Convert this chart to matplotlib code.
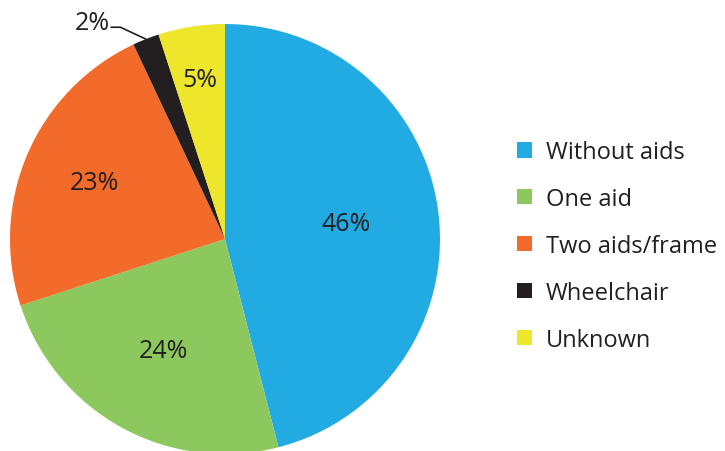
import numpy as np
import matplotlib
matplotlib.use("Agg")
import matplotlib.pyplot as plt

categories = ["Without aids", "One aid", "Two aids/frame", "Wheelchair", "Unknown"]
values = [46, 24, 23, 2, 5]
colors = ["#22ABE2", "#8DC85F", "#F26B2A", "#231F20", "#EDE62A"]
label_dist = [0.57, 0.59, 0.66, None, 0.75]

plt.rcParams['font.family'] = ['Open Sans', 'DejaVu Sans']
text_color = "#231F20"

fig = plt.figure(figsize=(7.25, 4.52), dpi=100)
W, H = 725, 452
cx, cy, r = 225, 240, 215
ax = fig.add_axes([(cx - r) / W, (H - cy - r) / H, 2 * r / W, 2 * r / H])
wedges, _ = ax.pie(values, colors=colors, startangle=90, counterclock=False,
                   radius=1, wedgeprops=dict(linewidth=0))
ax.set_xlim(-1, 1)
ax.set_ylim(-1, 1)
ax.set_aspect('equal')
ax.axis('off')

for w, v, d in zip(wedges, values, label_dist):
    mid = np.deg2rad((w.theta1 + w.theta2) / 2)
    if d is not None:
        ax.text(d * np.cos(mid), d * np.sin(mid), f"{v}%", ha='center', va='center',
                fontsize=18, color=text_color)
    else:
        ex, ey = np.cos(mid), np.sin(mid)
        ax.annotate("", xy=(ex, ey), xytext=(-0.53, 0.985),
                    arrowprops=dict(arrowstyle='-', color=text_color, lw=1.2,
                                    shrinkA=0, shrinkB=0,
                                    connectionstyle="angle,angleA=0,angleB=-25,rad=0"),
                    annotation_clip=False)
        ax.text(-0.535, 0.975, f"{v}%", ha='right', va='baseline', fontsize=18,
                color=text_color, clip_on=False)

fig.legend(wedges, categories, loc='center left',
           bbox_to_anchor=(517 / W, 1 - 247 / H), frameon=False,
           fontsize=17, handlelength=0.62, handleheight=0.62, handletextpad=0.6,
           labelspacing=0.97, borderpad=0, borderaxespad=0, labelcolor=text_color)

fig.savefig("out.png", dpi=100)
